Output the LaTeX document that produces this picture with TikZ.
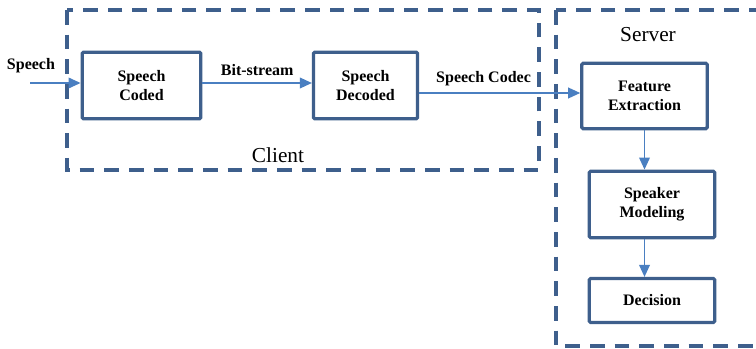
\documentclass[tikz,border=0pt]{standalone}
\usepackage{fontspec}
\setmainfont{Liberation Serif}
\usetikzlibrary{arrows.meta}
\definecolor{boxblue}{HTML}{3E5F8C}
\definecolor{arrblue}{HTML}{4A7FC1}

\begin{document}
\begin{tikzpicture}[x=0.75pt, y=-0.75pt, thick,
        every node/.style={font=\bfseries\fontsize{12}{14}\selectfont, inner sep=1pt},
        block/.style={draw=boxblue, line width=2.4pt, rounded corners=1pt,
            align=center, fill=white},
        region/.style={draw=boxblue, line width=2.4pt, dash pattern=on 11pt off 7.5pt},
        flow/.style={draw=arrblue, line width=1.1pt, -{Triangle[length=9pt,width=8pt]}}]
        \clip (0,0) rectangle (756,349);

        % Client and server regions
        \draw[region] (67,10) rectangle (539,170);
        \draw[region] (556,10) rectangle (780,346);
        \node[font=\fontsize{16}{18}\selectfont] (client) at (278,155) {Client};
        \node[font=\fontsize{16}{18}\selectfont] (server) at (648,35) {Server};

        % Blocks
        \node[block, minimum width=89pt, minimum height=50pt] (sc) at (141.5,85.5) {Speech\\Coded};
        \node[block, minimum width=78pt, minimum height=50pt] (sd) at (365.5,85.5) {Speech\\Decoded};
        \node[block, minimum width=94pt, minimum height=49pt] (fe) at (644.5,96) {Feature\\Extraction};
        \node[block, minimum width=94pt, minimum height=50pt] (sm) at (652,204.5) {Speaker\\Modeling};
        \node[block, minimum width=94pt, minimum height=33pt] (dec) at (652,300.5) {Decision};

        % Connectors
        \coordinate (in) at (30,83);
        \draw[flow] (in) -- (in -| sc.west);
        \node (speech) at (31,66) {Speech};
        \draw[flow] (sc.east |- in) -- (sd.west |- in)
            node[midway, above=4pt] (bits) {Bit-stream};
        \draw[flow] (sd.east |- 0,93) -- (fe.west |- 0,93)
            node[pos=0.4, above=4pt] (codec) {Speech Codec};
        \draw[flow] (fe.south) -- (fe.south |- sm.north);
        \draw[flow] (fe.south |- sm.south) -- (fe.south |- dec.north);
    \end{tikzpicture}
\end{document}
